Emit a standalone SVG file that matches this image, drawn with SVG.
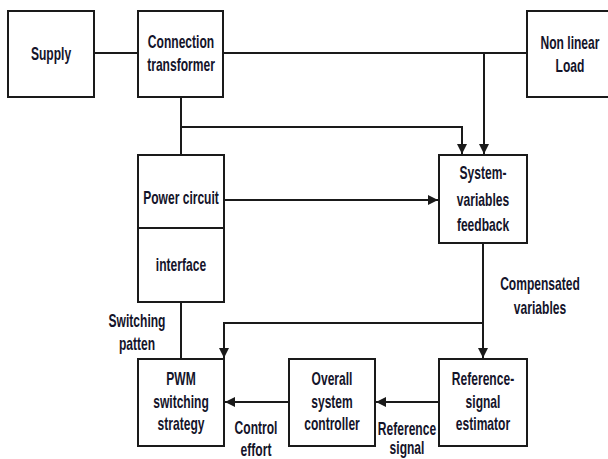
<svg xmlns="http://www.w3.org/2000/svg" width="608" height="459" viewBox="0 0 608 459">
<defs>
<style>
.box{fill:#fff;stroke:#1a1a1a;stroke-width:2}
.ln{fill:none;stroke:#1a1a1a;stroke-width:2}
.t{font-family:"Liberation Sans",Arial,sans-serif;font-weight:bold;font-size:18px;fill:#14142a;text-anchor:middle}
</style>
<marker id="ah" viewBox="0 0 10 10" refX="10" refY="5" markerWidth="5" markerHeight="5" orient="auto" markerUnits="strokeWidth">
<path d="M0,0 L10,5 L0,10 Z" fill="#1a1a1a"/>
</marker>
</defs>
<rect width="608" height="459" fill="#fff"/>
<g id="connectors">
<path class="ln" d="M94,53 H138"/>
<path class="ln" d="M223,53 H527"/>
<path class="ln" d="M181,97 V155"/>
<path class="ln" d="M181,127 H462 V154" marker-end="url(#ah)"/>
<path class="ln" d="M484,53 V154" marker-end="url(#ah)"/>
<path class="ln" d="M224,200 H438" marker-end="url(#ah)"/>
<path class="ln" d="M483,243 V358" marker-end="url(#ah)"/>
<path class="ln" d="M483,323 H224 V358" marker-end="url(#ah)"/>
<path class="ln" d="M181,302 V359"/>
<path class="ln" d="M439,402 H376" marker-end="url(#ah)"/>
<path class="ln" d="M289,402 H225" marker-end="url(#ah)"/>
</g>
<g id="supply">
<rect class="box" x="8" y="11" width="86" height="86"/>
<text class="t" transform="translate(51,60) scale(0.67,1)">Supply</text>
</g>
<g id="connection-transformer">
<rect class="box" x="138" y="11" width="85" height="86"/>
<text class="t" transform="translate(181,48) scale(0.67,1)">Connection</text>
<text class="t" transform="translate(181,71) scale(0.67,1)">transformer</text>
</g>
<g id="nonlinear-load">
<rect class="box" x="527" y="11" width="90" height="86"/>
<text class="t" transform="translate(570,49) scale(0.67,1)">Non linear</text>
<text class="t" transform="translate(570,72) scale(0.67,1)">Load</text>
</g>
<g id="power-circuit">
<rect class="box" x="138" y="155" width="86" height="73"/>
<text class="t" transform="translate(181,204) scale(0.67,1)">Power circuit</text>
</g>
<g id="interface">
<rect class="box" x="138" y="228" width="86" height="74"/>
<text class="t" transform="translate(181,271) scale(0.67,1)">interface</text>
</g>
<g id="system-variables-feedback">
<rect class="box" x="439" y="155" width="88" height="88"/>
<text class="t" transform="translate(483,179) scale(0.67,1)">System-</text>
<text class="t" transform="translate(483,206) scale(0.67,1)">variables</text>
<text class="t" transform="translate(483,231) scale(0.67,1)">feedback</text>
</g>
<g id="pwm">
<rect class="box" x="138" y="359" width="86" height="87"/>
<text class="t" transform="translate(181,385) scale(0.67,1)">PWM</text>
<text class="t" transform="translate(181,408) scale(0.67,1)">switching</text>
<text class="t" transform="translate(181,430) scale(0.67,1)">strategy</text>
</g>
<g id="overall-controller">
<rect class="box" x="289" y="359" width="86" height="87"/>
<text class="t" transform="translate(332,385) scale(0.67,1)">Overall</text>
<text class="t" transform="translate(332,408) scale(0.67,1)">system</text>
<text class="t" transform="translate(332,430) scale(0.67,1)">controller</text>
</g>
<g id="reference-estimator">
<rect class="box" x="439" y="359" width="88" height="87"/>
<text class="t" transform="translate(483,385) scale(0.67,1)">Reference-</text>
<text class="t" transform="translate(483,408) scale(0.67,1)">signal</text>
<text class="t" transform="translate(483,430) scale(0.67,1)">estimator</text>
</g>
<g id="labels">
<text class="t" transform="translate(540,290) scale(0.67,1)">Compensated</text>
<text class="t" transform="translate(540,314) scale(0.67,1)">variables</text>
<text class="t" transform="translate(137,327) scale(0.67,1)">Switching</text>
<text class="t" transform="translate(137,350) scale(0.67,1)">patten</text>
<text class="t" transform="translate(256,434) scale(0.67,1)">Control</text>
<text class="t" transform="translate(256,456) scale(0.67,1)">effort</text>
<text class="t" transform="translate(407,435) scale(0.67,1)">Reference</text>
<text class="t" transform="translate(407,454) scale(0.67,1)">signal</text>
</g>
</svg>
